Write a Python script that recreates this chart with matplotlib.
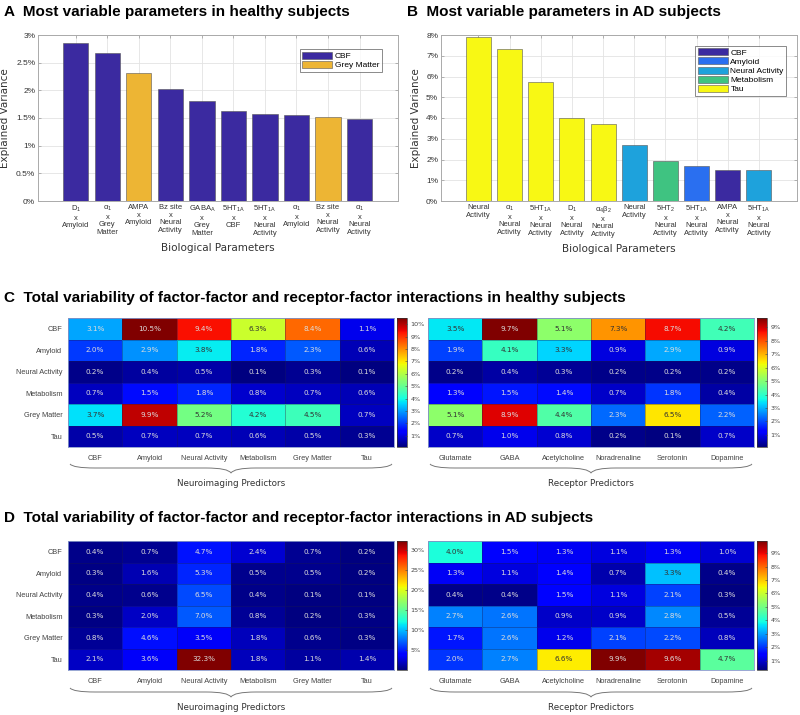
import numpy as np
import matplotlib
matplotlib.use("Agg")
from matplotlib import pyplot as plt
from matplotlib.path import Path
from matplotlib.patches import PathPatch, Patch
from matplotlib.colors import Normalize

# ---- data ----
a_labels = ["D$_1$\nx\nAmyloid", "α$_1$\nx\nGrey\nMatter", "AMPA\nx\nAmyloid",
            "Bz site\nx\nNeural\nActivity", "GABA$_\\mathrm{A}$\nx\nGrey\nMatter",
            "5HT$_\\mathrm{1A}$\nx\nCBF", "5HT$_\\mathrm{1A}$\nx\nNeural\nActivity",
            "α$_1$\nx\nAmyloid", "Bz site\nx\nNeural\nActivity",
            "α$_1$\nx\nNeural\nActivity"]
a_values = [2.85, 2.67, 2.31, 2.02, 1.81, 1.63, 1.58, 1.55, 1.52, 1.49]
a_groups = ["CBF", "CBF", "Grey Matter", "CBF", "CBF", "CBF", "CBF", "CBF",
            "Grey Matter", "CBF"]

b_labels = ["Neural\nActivity", "α$_1$\nx\nNeural\nActivity",
            "5HT$_\\mathrm{1A}$\nx\nNeural\nActivity", "D$_1$\nx\nNeural\nActivity",
            "α$_4$β$_2$\nx\nNeural\nActivity", "Neural\nActivity",
            "5HT$_2$\nx\nNeural\nActivity", "5HT$_\\mathrm{1A}$\nx\nNeural\nActivity",
            "AMPA\nx\nNeural\nActivity", "5HT$_\\mathrm{1A}$\nx\nNeural\nActivity"]
b_values = [7.92, 7.31, 5.72, 4.00, 3.69, 2.68, 1.94, 1.69, 1.48, 1.48]
b_groups = ["Tau", "Tau", "Tau", "Tau", "Tau", "Neural Activity", "Metabolism",
            "Amyloid", "CBF", "Neural Activity"]

group_colors = {"CBF": "#3b2aa0", "Amyloid": "#2a6ff0", "Neural Activity": "#1ea2dc",
                "Metabolism": "#3fc381", "Tau": "#f8f814", "Grey Matter": "#edb534"}

factors = ["CBF", "Amyloid", "Neural Activity", "Metabolism", "Grey Matter", "Tau"]
receptors = ["Glutamate", "GABA", "Acetylcholine", "Noradrenaline", "Serotonin", "Dopamine"]

c_factor = [[3.1, 10.5, 9.4, 6.3, 8.4, 1.1],
            [2.0, 2.9, 3.8, 1.8, 2.3, 0.6],
            [0.2, 0.4, 0.5, 0.1, 0.3, 0.1],
            [0.7, 1.5, 1.8, 0.8, 0.7, 0.6],
            [3.7, 9.9, 5.2, 4.2, 4.5, 0.7],
            [0.5, 0.7, 0.7, 0.6, 0.5, 0.3]]
c_receptor = [[3.5, 9.7, 5.1, 7.3, 8.7, 4.2],
              [1.9, 4.1, 3.3, 0.9, 2.9, 0.9],
              [0.2, 0.4, 0.3, 0.2, 0.2, 0.2],
              [1.3, 1.5, 1.4, 0.7, 1.8, 0.4],
              [5.1, 8.9, 4.4, 2.3, 6.5, 2.2],
              [0.7, 1.0, 0.8, 0.2, 0.1, 0.7]]
d_factor = [[0.4, 0.7, 4.7, 2.4, 0.7, 0.2],
            [0.3, 1.6, 5.3, 0.5, 0.5, 0.2],
            [0.4, 0.6, 6.5, 0.4, 0.1, 0.1],
            [0.3, 2.0, 7.0, 0.8, 0.2, 0.3],
            [0.8, 4.6, 3.5, 1.8, 0.6, 0.3],
            [2.1, 3.6, 32.3, 1.8, 1.1, 1.4]]
d_receptor = [[4.0, 1.5, 1.3, 1.1, 1.3, 1.0],
              [1.3, 1.1, 1.4, 0.7, 3.3, 0.4],
              [0.4, 0.4, 1.5, 1.1, 2.1, 0.3],
              [2.7, 2.6, 0.9, 0.9, 2.8, 0.5],
              [1.7, 2.6, 1.2, 2.1, 2.2, 0.8],
              [2.0, 2.7, 6.6, 9.9, 9.6, 4.7]]

c_factor_ticks = [1, 2, 3, 4, 5, 6, 7, 8, 9, 10]
c_receptor_ticks = [1, 2, 3, 4, 5, 6, 7, 8, 9]
d_factor_ticks = [5, 10, 15, 20, 25, 30]
d_receptor_ticks = [1, 2, 3, 4, 5, 6, 7, 8, 9]

W, H = 800, 715
fig = plt.figure(figsize=(W / 100, H / 100), dpi=100)
TICKF = "Liberation Sans"
plt.rcParams["mathtext.fontset"] = "custom"
plt.rcParams["mathtext.rm"] = TICKF
plt.rcParams["mathtext.it"] = TICKF


def box(x0, y0, x1, y1):
    return [x0 / W, 1 - y1 / H, (x1 - x0) / W, (y1 - y0) / H]


def title(x, y, s):
    fig.text(x / W, 1 - y / H, s, fontsize=11, fontweight="bold", family=TICKF,
             va="center", ha="left")


def bar_panel(rect, labels, values, groups, ymax, legend_groups, leg_anchor):
    ax = fig.add_axes(box(*rect))
    pos = np.arange(1, len(values) + 1)
    cols = [group_colors[g] for g in groups]
    ax.bar(pos, values, width=0.8, color=cols, edgecolor="#555555", linewidth=0.4,
           zorder=3)
    ax.set_xlim(-0.2, 11.22)
    ax.set_ylim(0, ymax)
    step = 0.5 if ymax <= 3 else 1
    yt = np.arange(0, ymax + 0.001, step)
    ax.set_yticks(yt)
    ax.set_yticklabels(["%g%%" % v for v in yt], fontsize=6, family=TICKF, color="#333333")
    ax.set_xticks(pos)
    ax.set_xticklabels(labels, fontsize=5.5, family=TICKF, color="#333333",
                       linespacing=1.15, va="top")
    ax.grid(True, color="#e3e3e3", linewidth=0.6, zorder=0)
    ax.tick_params(direction="in", length=2, width=0.5, color="#999999", pad=2,
                   top=True, right=True)
    for s in ax.spines.values():
        s.set_color("#aaaaaa")
        s.set_linewidth(0.7)
    ax.set_ylabel("Explained Variance", fontsize=7.5, color="#333333", labelpad=4)
    ax.set_xlabel("Biological Parameters", fontsize=7.5, color="#333333", labelpad=4)
    handles = [Patch(facecolor=group_colors[g], edgecolor="#555555", linewidth=0.4)
               for g in legend_groups]
    leg = ax.legend(handles, legend_groups, loc="upper right", bbox_to_anchor=leg_anchor,
                    fontsize=6, frameon=True, fancybox=False, handlelength=3.6,
                    handleheight=0.9, handletextpad=0.3, borderpad=0.3,
                    labelspacing=0.1, borderaxespad=0.0, prop={"family": TICKF, "size": 6})
    leg.get_frame().set_edgecolor("#555555")
    leg.get_frame().set_linewidth(0.6)
    return ax


bar_panel((38, 35, 398, 201), a_labels, a_values, a_groups, 3.0,
          ["CBF", "Grey Matter"], (0.955, 0.915))
bar_panel((441, 35, 797, 201), b_labels, b_values, b_groups, 8.0,
          ["CBF", "Amyloid", "Neural Activity", "Metabolism", "Tau"], (0.97, 0.935))

title(4, 12, "A  Most variable parameters in healthy subjects")
title(407, 12, "B  Most variable parameters in AD subjects")
title(4, 298, "C  Total variability of factor-factor and receptor-factor interactions in healthy subjects")
title(4, 518, "D  Total variability of factor-factor and receptor-factor interactions in AD subjects")


def brace(x0, x1, ytop, ymid, ybot):
    xm = (x0 + x1) / 2
    r = 25
    pts = [(x0, ytop), (x0 + 3, ymid), (x0 + r, ymid),
           (xm - r, ymid), (xm - 3, ymid), (xm, ybot),
           (xm + 3, ymid), (xm + r, ymid),
           (x1 - r, ymid), (x1 - 3, ymid), (x1, ytop)]
    codes = [Path.MOVETO, Path.CURVE3, Path.CURVE3,
             Path.LINETO, Path.CURVE3, Path.CURVE3,
             Path.CURVE3, Path.CURVE3,
             Path.LINETO, Path.CURVE3, Path.CURVE3]
    pts = [(x / W, 1 - y / H) for x, y in pts]
    fig.patches.append(PathPatch(Path(pts, codes), transform=fig.transFigure,
                                 facecolor="none", edgecolor="#777777", linewidth=0.7))


def heat_panel(rect, cbrect, data, xlabels, ylabels, ticks, group_label, ylab_top):
    data = np.array(data)
    ax = fig.add_axes(box(*rect))
    norm = Normalize(vmin=data.min(), vmax=data.max())
    cmap = plt.get_cmap("jet")
    m = ax.pcolormesh(data, cmap=cmap, norm=norm, edgecolors=(0.1, 0.1, 0.3, 0.35),
                      linewidth=0.5)
    ax.set_xlim(0, data.shape[1])
    ax.set_ylim(data.shape[0], 0)
    for i in range(data.shape[0]):
        for j in range(data.shape[1]):
            r, g, b, _ = cmap(norm(data[i, j]))
            lum = 0.299 * r + 0.587 * g + 0.114 * b
            c = "#333333" if lum > 0.55 else "#dcdcdc"
            ax.text(j + 0.5, i + 0.5, "%.1f%%" % data[i, j], ha="center", va="center",
                    fontsize=5.2, color=c)
    ax.set_xticks(np.arange(data.shape[1]) + 0.5)
    ax.set_xticklabels(xlabels, fontsize=5.3, family=TICKF, color="#444444")
    ax.tick_params(axis="x", length=0, pad=6)
    ax.set_yticks(np.arange(data.shape[0]) + 0.5)
    if ylabels:
        ax.set_yticklabels(ylabels, fontsize=5.3, family=TICKF, color="#444444")
    else:
        ax.set_yticklabels([])
    ax.tick_params(axis="y", length=0, pad=4)
    for s in ax.spines.values():
        s.set_color("#8899cc")
        s.set_linewidth(0.6)
    cax = fig.add_axes(box(*cbrect))
    cb = fig.colorbar(m, cax=cax, ticks=ticks)
    cb.ax.set_yticklabels(["%d%%" % t for t in ticks], fontsize=4.6, color="#444444")
    cb.ax.tick_params(direction="in", length=1.5, width=0.4, pad=2.5, color="#444444")
    cb.outline.set_linewidth(0.5)
    cb.outline.set_edgecolor("#333333")
    x0, y0, x1, y1 = rect
    brace(x0 + 2, x1 - 2, ylab_top, ylab_top + 4, ylab_top + 9)
    fig.text((x0 + x1) / 2 / W, 1 - (ylab_top + 20) / H, group_label, fontsize=6.3,
             color="#333333", ha="center", va="center")


heat_panel((68, 318, 394, 447), (397, 318, 407, 447), c_factor, factors, factors,
           c_factor_ticks, "Neuroimaging Predictors", 464)
heat_panel((428, 318, 754, 447), (757, 318, 767, 447), c_receptor, receptors, None,
           c_receptor_ticks, "Receptor Predictors", 464)
heat_panel((68, 541, 394, 670), (397, 541, 407, 670), d_factor, factors, factors,
           d_factor_ticks, "Neuroimaging Predictors", 688)
heat_panel((428, 541, 754, 670), (757, 541, 767, 670), d_receptor, receptors, None,
           d_receptor_ticks, "Receptor Predictors", 688)

fig.savefig("out.png", dpi=100)
